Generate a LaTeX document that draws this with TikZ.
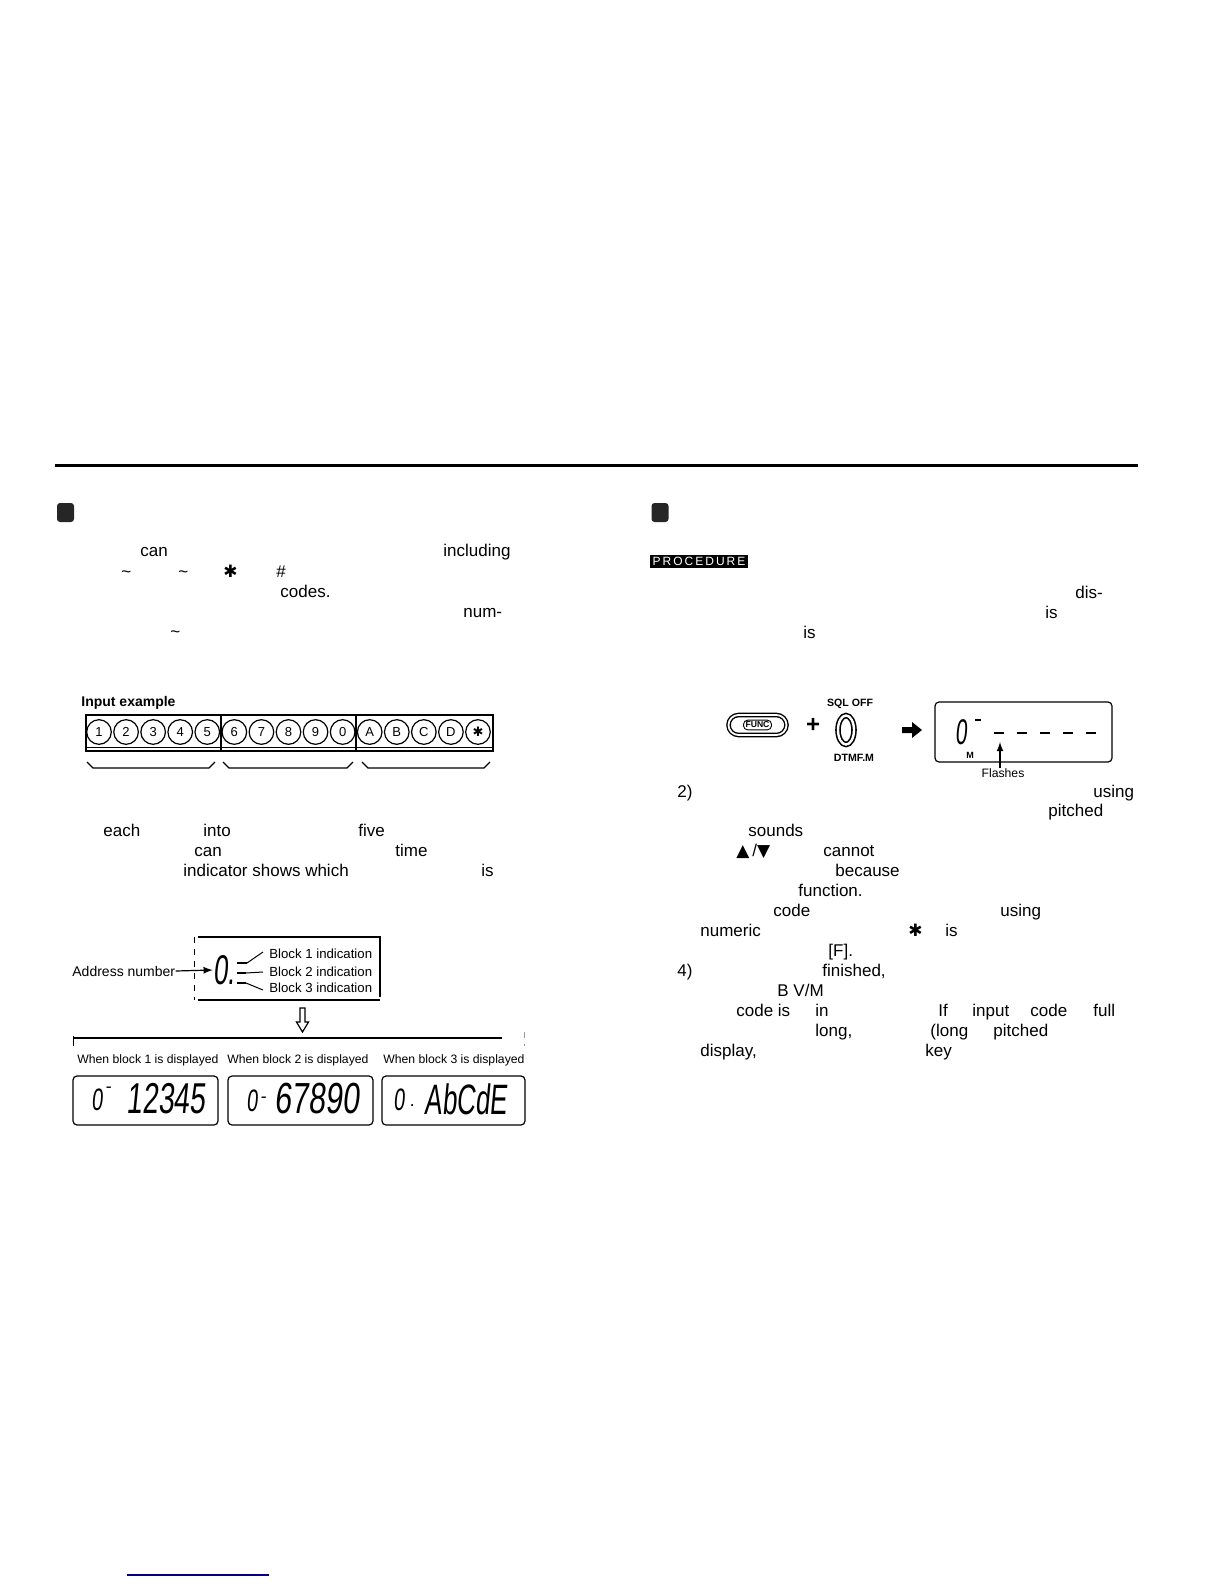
\documentclass[tikz,border=0pt]{standalone}
\usepackage{fontspec}
\setmainfont{Liberation Sans}
\newfontfamily\symface{DejaVu Sans}
\newfontfamily\lcdface[FakeSlant=0.15]{Liberation Sans}
\usetikzlibrary{positioning}
\usetikzlibrary{shapes.geometric}

\begin{document}
\begin{tikzpicture}[x=0.5pt, y=-0.5pt, >=latex,
    body/.style={font=\fontsize{8.5}{10}\selectfont, anchor=base west, inner sep=0pt},
    tiny/.style={font=\fontsize{6.6}{8}\selectfont, anchor=west, inner sep=0pt},
    keyring/.style={circle, draw, line width=0.6pt, minimum size=12.3pt, inner sep=0pt, font=\fontsize{6.5}{7}\selectfont},
    lcdbox/.style={draw, rounded corners=2pt, line width=0.6pt, inner sep=0pt},
    lcdtext/.style={inner sep=0pt, font=\lcdface},
    segdash/.style={line width=1.3pt},
    bullet/.style={fill=black!85, rounded corners=1.5pt, minimum width=8.5pt, minimum height=9.5pt, inner sep=0pt}]
\useasboundingbox[fill=white] (0,0) rectangle (1224,1584);

% page rule
\draw[line width=1.5pt] (55,465) -- (1138,465);

% left column
\node[bullet] (markL) at (65.5,512.5) {};
\foreach \x/\y/\t [count=\i] in {140/552/can, 443/552/including,
    121/573/\textasciitilde, 178/573/\textasciitilde, 223/573/{\symface ✱}, 276/573/\#,
    280/593/codes., 463/613/num-, 170/633/\textasciitilde,
    103/832/each, 203/832/into, 358/832/five,
    194/852/can, 395/852/time,
    183/872/indicator shows which, 481/872/is}
  \node[body] (lt\i) at (\x,\y+4.5) {\t};

% input example
\node[anchor=west, inner sep=0pt, font=\bfseries\fontsize{7}{8}\selectfont] (inex) at (81,703) {Input example};
\draw[line width=0.8pt] (86,715) rectangle (493,751);
\draw[line width=0.5pt] (86,747) -- (493,747);
\draw[line width=0.7pt] (221,715) -- (221,751) (356,715) -- (356,751);
\foreach \k [count=\i] in {1,2,3,4,5,6,7,8,9,0,A,B,C,D,{\symface ✱}}
  \node[keyring] (key\i) at ({99+27.07*(\i-1)},732) {\k};
\foreach \a/\b in {87/215, 223/353, 362/490}
  \draw[line width=0.6pt] (\a,762) -- (\a+6,768) -- (\b-6,768) -- (\b,762);

% address number
\draw[line width=0.6pt] (198,937) -- (380,937) -- (380,997);
\draw[line width=0.6pt] (198,1000) -- (380,1000);
\draw[dashed, line width=0.4pt] (194,937) -- (194,1000);
\node[tiny, font=\fontsize{7}{8}\selectfont] (addr) at (72,971) {Address number};
\node[lcdtext, font=\lcdface\fontsize{13}{13}\selectfont] (adigit) at (224,970) {\scalebox{1}[1.6]{0.}};
\draw[->, line width=0.6pt] (addr.east) -- (adigit.west);
\draw[segdash] (237,963) -- (247,963) coordinate (s1);
\draw[segdash] (237,973) -- (246,973) coordinate (s2);
\draw[segdash] (237,983) -- (246,983) coordinate (s3);
\node[tiny] (blk1) at (269,954) {Block 1 indication};
\node[tiny] (blk2) at (269,972) {Block 2 indication};
\node[tiny] (blk3) at (269,988) {Block 3 indication};
\draw[line width=0.5pt] (s1) -- ([shift={(-3pt,1pt)}]blk1.west);
\draw[line width=0.5pt] (s2) -- ([xshift=-3pt]blk2.west);
\draw[line width=0.5pt] (s3) -- ([shift={(-3pt,-1pt)}]blk3.west);

% hollow arrow
\draw[line width=0.6pt] (300,1008) -- (305,1008) -- (305,1022) -- (308.5,1022)
  -- (302.5,1032) -- (296.5,1022) -- (300,1022) -- cycle;

% displays
\draw[line width=0.6pt] (73,1038) -- (502,1038);
\draw[line width=0.5pt] (73,1036) -- (73,1046);
\draw[black!40, dashed, line width=0.4pt] (524,1032) -- (524,1046);
\node[tiny, font=\fontsize{6.1}{7}\selectfont] (when1) at (77,1060) {When block 1 is displayed};
\node[tiny, font=\fontsize{6.1}{7}\selectfont] (when2) at (227,1060) {When block 2 is displayed};
\node[tiny, font=\fontsize{6.1}{7}\selectfont] (when3) at (383,1060) {When block 3 is displayed};
\node[lcdbox, minimum width=72.5pt, minimum height=24.5pt] (disp1) at (145.5,1100.5) {};
\node[lcdbox, minimum width=72.5pt, minimum height=24.5pt] (disp2) at (300.5,1100.5) {};
\node[lcdbox, minimum width=71.5pt, minimum height=24.5pt] (disp3) at (453.5,1100.5) {};
\node[lcdtext, font=\lcdface\fontsize{10}{10}\selectfont] (d1a) at (97,1100) {\scalebox{1}[1.55]{0}};
\node[lcdtext, font=\lcdface\fontsize{9}{9}\selectfont] (d1b) at (108,1090) {-};
\node[lcdtext, font=\lcdface\fontsize{13.5}{14}\selectfont] (d1c) at (166,1099) {\scalebox{1.05}[1.6]{12345}};
\node[lcdtext, font=\lcdface\fontsize{10}{10}\selectfont] (d2a) at (252,1101) {\scalebox{1}[1.55]{0}};
\node[lcdtext, font=\lcdface\fontsize{9}{9}\selectfont] (d2b) at (263,1100) {-};
\node[lcdtext, font=\lcdface\fontsize{14.5}{15}\selectfont] (d2c) at (317,1099) {\scalebox{1.05}[1.5]{67890}};
\node[lcdtext, font=\lcdface\fontsize{10}{10}\selectfont] (d3a) at (399,1100) {\scalebox{1}[1.55]{0}};
\node[lcdtext, font=\lcdface\fontsize{9}{9}\selectfont] (d3b) at (412,1106) {.};
\node[lcdtext, font=\lcdface\fontsize{12.5}{13}\selectfont] (d3c) at (466,1099) {\scalebox{1.04}[1.7]{AbCdE}};

% right column
\node[bullet] (markR) at (660,512.5) {};
\node[fill=black, text=white, inner sep=0pt, minimum width=49pt, minimum height=6.5pt,
  font=\fontsize{6}{6}\selectfont] (proc) at (699,561.5) {P\,R\,O\,C\,E\,D\,U\,R\,E};
\foreach \x/\y/\t [count=\i] in {1075/594/dis-, 1045/614/is, 803/634/is,
    677/793/2), 1093/793/using, 1048/812/pitched, 748/832/sounds,
    736/852/{{\symface ▲}\,/{\symface ▼}}, 823/852/cannot, 835/872/because,
    798/892/function., 773/912/code, 1000/912/using,
    700/932/numeric, 908/932/{\symface ✱}, 945/932/is, 828/952/{[F].},
    677/972/4), 822/972/{finished,}, 777/992/{B V/M},
    736/1012/code is, 815/1012/in, 938/1012/If, 972/1012/input, 1030/1012/code, 1093/1012/full,
    815/1032/{long,}, 930/1032/(long, 993/1032/pitched,
    700/1052/{display,}, 925/1052/key}
  \node[body] (rt\i) at (\x,\y+4.5) {\t};

% key sequence
\node[draw, double, double distance=0.9pt, line width=0.7pt, rounded corners=5pt,
  minimum width=29pt, minimum height=10pt, inner sep=0pt] (func) at (757.5,725) {};
\node[draw, line width=0.45pt, rounded corners=2pt, inner xsep=1pt, inner ysep=0.9pt,
  font=\bfseries\fontsize{4.3}{5}\selectfont] (funclbl) at (func.center) {FUNC};
\node[inner sep=0pt, font=\bfseries\fontsize{12}{12}\selectfont] (plus) at (813,725) {+};
\node[ellipse, draw, double, double distance=1.2pt, line width=0.8pt,
  minimum width=8pt, minimum height=14.5pt, inner sep=0pt] (zero) at (846,730) {};
\node[inner sep=0pt, font=\bfseries\fontsize{5.3}{6}\selectfont] (sql) at (850,704) {SQL OFF};
\node[inner sep=0pt, font=\bfseries\fontsize{5.3}{6}\selectfont] (dtmf) at (854,758) {DTMF.M};
\fill (902,727) -- (912,727) -- (912,722) -- (922,730) -- (912,738) -- (912,733) -- (902,733) -- cycle;

% memory display
\node[lcdbox, minimum width=88.5pt, minimum height=30pt] (rdisp) at (1023.5,732) {};
\node[lcdtext, font=\lcdface\fontsize{10.5}{10}\selectfont] (rd0) at (961,732) {\scalebox{1}[1.7]{0}};
\draw[line width=1pt] (975,720) -- (981,720);
\foreach \c in {999,1022,1045,1068,1091}
  \draw[segdash] (\c-5,733) -- (\c+5,733);
\node[inner sep=0pt, font=\bfseries\fontsize{4.5}{5}\selectfont] (rdm) at (970,755) {M};
\node[inner sep=0pt, font=\fontsize{6.1}{7}\selectfont] (flash) at (1003,773) {Flashes};
\draw[->, line width=0.6pt] (flash.north -| 1000,0) -- (1000,742);

% footer mark
\draw[blue!50!black, line width=0.6pt] (127,1575) -- (269,1575);
\end{tikzpicture}
\end{document}
